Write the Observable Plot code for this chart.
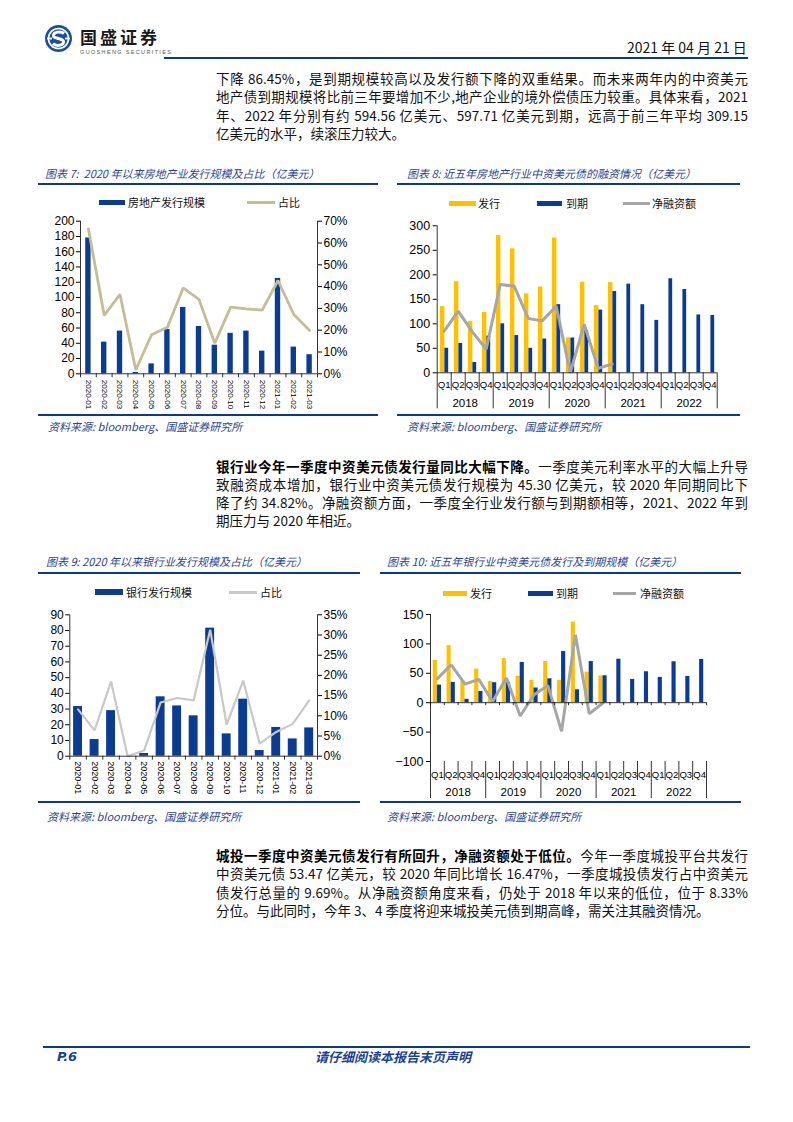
<!DOCTYPE html>
<html><head><meta charset="utf-8">
<script src="https://cdn.jsdelivr.net/npm/d3@7"></script>
<script src="https://cdn.jsdelivr.net/npm/@observablehq/plot@0.6"></script>
<style>
body{margin:0;background:#fff;}
#page{position:relative;width:793px;height:1122px;overflow:hidden;font-family:"Noto Sans CJK SC","Noto Sans",sans-serif;color:#111;background:#fff;}
.abs{position:absolute;white-space:nowrap;}
.ln{position:absolute;left:216px;width:532px;height:18.5px;line-height:18.5px;font-size:13.5px;text-align:justify;text-align-last:justify;color:#111;}
.ln.last{text-align:left;text-align-last:left;}
.ln b{font-weight:700;color:#000;}
.ttl{position:absolute;font-size:11px;line-height:14px;font-style:italic;color:#2b4590;white-space:pre;}
.src{position:absolute;font-size:11px;line-height:14px;font-style:italic;color:#2b4590;white-space:pre;}
.rule{position:absolute;height:2px;background:#0b3a8c;}
.lgt{position:absolute;font-size:11px;line-height:14px;white-space:nowrap;color:#111;}
.sw{position:absolute;}
.chart{position:absolute;}
</style></head>
<body><div id="page">
<!-- header -->
<svg class="abs" style="left:44px;top:24px" width="30" height="30" viewBox="0 0 30 30">
  <circle cx="14.5" cy="14.5" r="13.5" fill="#1b4ea0"/>
  <circle cx="14.5" cy="14.5" r="10" fill="none" stroke="#fff" stroke-width="1.6"/>
  <path d="M20 9.5 C17 7,9 7.5,9.5 12 C10 15,19 14,19.5 17.5 C20 22,12 22.5,9 19.5" fill="none" stroke="#fff" stroke-width="3"/>
  <rect x="3" y="13.6" width="5" height="1.8" fill="#fff"/>
  <rect x="21" y="13.6" width="5" height="1.8" fill="#fff"/>
</svg>
<div class="abs" style="left:80px;top:27.5px;font-size:17px;line-height:18px;font-weight:700;color:#1a1a1a;letter-spacing:3px">国盛证券</div>
<div class="abs" style="left:80px;top:49px;font-size:5.5px;line-height:6px;letter-spacing:1.35px;color:#555;font-family:'Liberation Sans',Arial,sans-serif">GUOSHENG SECURITIES</div>
<div class="abs" style="left:627px;top:38px;font-size:14px;line-height:18px;color:#111">2021 年 04 月 21 日</div>
<div class="rule" style="left:164px;top:56.5px;width:584px;height:2.5px"></div>

<!-- paragraph 1 -->
<div class="ln" style="top:68.75px">下降 86.45%，是到期规模较高以及发行额下降的双重结果。而未来两年内的中资美元</div>
<div class="ln" style="top:87.25px">地产债到期规模将比前三年要增加不少,地产企业的境外偿债压力较重。具体来看，2021</div>
<div class="ln" style="top:105.75px">年、2022 年分别有约 594.56 亿美元、597.71 亿美元到期，远高于前三年平均 309.15</div>
<div class="ln last" style="top:124.25px">亿美元的水平，续滚压力较大。</div>

<!-- chart 7 / 8 titles -->
<div class="ttl" style="left:45px;top:166px">图表 7:  2020 年以来房地产业发行规模及占比（亿美元）</div>
<div class="rule" style="left:38px;top:183.3px;width:340px"></div>
<div class="ttl" style="left:407px;top:166px">图表 8: 近五年房地产行业中资美元债的融资情况（亿美元）</div>
<div class="rule" style="left:397px;top:183.3px;width:343px"></div>

<!-- legends 7 -->
<div class="sw" style="left:99px;top:199.5px;width:26px;height:5px;background:#0b3c8f"></div>
<div class="lgt" style="left:128px;top:195px">房地产发行规模</div>
<div class="sw" style="left:247px;top:200.5px;width:28px;height:3px;background:#c4bd97"></div>
<div class="lgt" style="left:278px;top:195px">占比</div>
<!-- legends 8 -->
<div class="sw" style="left:449px;top:200.8px;width:27px;height:5px;background:#ffc000"></div>
<div class="lgt" style="left:478px;top:196px">发行</div>
<div class="sw" style="left:537px;top:200.8px;width:25px;height:5px;background:#0b3c8f"></div>
<div class="lgt" style="left:566px;top:196px">到期</div>
<div class="sw" style="left:623px;top:201.8px;width:27px;height:3px;background:#a6a6a6"></div>
<div class="lgt" style="left:652px;top:196px">净融资额</div>

<div class="chart" id="c7" style="left:30px;top:195px;width:345px"></div>
<div class="chart" id="c8" style="left:395px;top:210px;width:345px"></div>

<div class="rule" style="left:38px;top:414px;width:340px"></div>
<div class="rule" style="left:397px;top:414px;width:343px"></div>
<div class="src" style="left:48px;top:419px">资料来源: bloomberg、国盛证券研究所</div>
<div class="src" style="left:407px;top:419px">资料来源: bloomberg、国盛证券研究所</div>

<!-- paragraph 2 -->
<div class="ln" style="top:457.25px"><b>银行业今年一季度中资美元债发行量同比大幅下降。</b>一季度美元利率水平的大幅上升导</div>
<div class="ln" style="top:475.25px">致融资成本增加，银行业中资美元债发行规模为 45.30 亿美元，较 2020 年同期同比下</div>
<div class="ln" style="top:493.25px">降了约 34.82%。净融资额方面，一季度全行业发行额与到期额相等，2021、2022 年到</div>
<div class="ln last" style="top:511.25px">期压力与 2020 年相近。</div>

<!-- chart 9 / 10 titles -->
<div class="ttl" style="left:46px;top:554px">图表 9: 2020 年以来银行业发行规模及占比（亿美元）</div>
<div class="rule" style="left:38px;top:571.7px;width:322px"></div>
<div class="ttl" style="left:387px;top:554px">图表 10: 近五年银行业中资美元债发行及到期规模（亿美元）</div>
<div class="rule" style="left:380px;top:571.7px;width:361px"></div>

<!-- legends 9 -->
<div class="sw" style="left:95px;top:589px;width:28px;height:6px;background:#0b3c8f"></div>
<div class="lgt" style="left:126px;top:585px">银行发行规模</div>
<div class="sw" style="left:229px;top:590.5px;width:28px;height:3px;background:#c8c8c8"></div>
<div class="lgt" style="left:260px;top:585px">占比</div>
<!-- legends 10 -->
<div class="sw" style="left:443px;top:590.5px;width:24px;height:5px;background:#ffc000"></div>
<div class="lgt" style="left:470px;top:586px">发行</div>
<div class="sw" style="left:528px;top:590.5px;width:25px;height:5px;background:#0b3c8f"></div>
<div class="lgt" style="left:556px;top:586px">到期</div>
<div class="sw" style="left:613px;top:591.5px;width:23px;height:3px;background:#a6a6a6"></div>
<div class="lgt" style="left:640px;top:586px">净融资额</div>

<div class="chart" id="c9" style="left:20px;top:600px;width:340px"></div>
<div class="chart" id="c10" style="left:380px;top:600px;width:360px"></div>

<div class="rule" style="left:38px;top:801.3px;width:322px"></div>
<div class="rule" style="left:380px;top:801.3px;width:361px"></div>
<div class="src" style="left:47px;top:809px">资料来源: bloomberg、国盛证券研究所</div>
<div class="src" style="left:387px;top:809px">资料来源: bloomberg、国盛证券研究所</div>

<!-- paragraph 3 -->
<div class="ln" style="top:845.75px"><b>城投一季度中资美元债发行有所回升，净融资额处于低位。</b>今年一季度城投平台共发行</div>
<div class="ln" style="top:864.25px">中资美元债 53.47 亿美元，较 2020 年同比增长 16.47%，一季度城投债发行占中资美元</div>
<div class="ln" style="top:882.75px">债发行总量的 9.69%。从净融资额角度来看，仍处于 2018 年以来的低位，位于 8.33%</div>
<div class="ln last" style="top:901.25px">分位。与此同时，今年 3、4 季度将迎来城投美元债到期高峰，需关注其融资情况。</div>

<!-- footer -->
<div class="rule" style="left:43px;top:1045.7px;width:707px"></div>
<div class="abs" style="left:57px;top:1049px;font-size:13px;line-height:16px;font-weight:700;font-style:italic;color:#1a3f94;font-family:'DejaVu Sans',sans-serif">P.6</div>
<div class="abs" style="left:315px;top:1049px;font-size:13px;line-height:16px;font-weight:700;font-style:italic;color:#1a3f94">请仔细阅读本报告末页声明</div>
</div>

<script>
// ---------- data ----------
const months = ["2020-01","2020-02","2020-03","2020-04","2020-05","2020-06","2020-07","2020-08","2020-09","2020-10","2020-11","2020-12","2021-01","2021-02","2021-03"];
const reIssue = [178, 41.5, 56, 1.7, 13, 58, 87, 62, 37.5, 53, 56, 29.7, 125, 35, 25];
const reShare = [66.5, 26.8, 36.4, 1.8, 17.9, 21.4, 39.4, 34.1, 14, 30.6, 29.8, 29.2, 42.8, 27.2, 19.9];
const bankIssue = [31.6, 10.6, 29, 0, 1.7, 37.8, 32, 25.7, 81.5, 14.2, 36.3, 3.6, 18.3, 11, 18];
const bankShare = [11.6, 6.4, 18.5, 0, 1.4, 13.3, 14.4, 13.8, 31.3, 7.8, 18.7, 3.1, 6, 8, 13.8];

const years = ["2018","2019","2020","2021","2022"];
const qNames = ["Q1","Q2","Q3","Q4"];
const reIss = [135, 186, 105, 123, 280, 253, 161, 175, 275, 71, 185, 137, 184];
const reMat = [50, 60, 21, 75, 100, 76, 50, 69, 139, 71, 86, 128, 166, 181, 139, 107, 192, 170, 118, 117];
const reNet = [85, 126, 84, 48, 180, 177, 111, 106, 136, 0, 99, 9, 18];
const bkIss = [72, 97, 37, 57, 36, 75, 45, 38, 70, 38, 137, 52, 45.3];
const bkMat = [30, 34.5, 5.7, 19, 34, 34, 68.5, 25, 40.7, 87, 22, 70, 45.8, 74, 39.6, 52.6, 43, 69.6, 44.7, 73.6];
const bkNet = [41, 64.5, 31.7, 39.6, 2, 41.9, -22.6, 13.6, 29.4, -48.7, 115.4, -18.7, -0.5];

// ---------- styles ----------
const BLUE = "#0b3c8f", GOLD = "#ffc000", KHAKI = "#c4bd97", NETG = "#a6a6a6", LGRAY = "#c8c8c8";
const baseStyle = {fontFamily: "'Liberation Sans', Arial, sans-serif", fontSize: "12px", color: "#000", background: "transparent", overflow: "visible"};

function dualChart({cats, vals, pcts, yMax, yStep, pMax, pStep, half, lineColor, lineWidth, width, height, mL, mR, mT, mB, labelSize, labelPad}) {
  const n = cats.length;
  const k = yMax / pMax;
  const data = cats.map((c, i) => ({i, c, v: vals[i], p: pcts[i]}));
  return Plot.plot({
    width, height, marginLeft: mL, marginRight: mR, marginTop: mT, marginBottom: mB,
    x: {type: "linear", domain: [-0.5, n - 0.5], axis: null},
    y: {domain: [0, yMax], axis: null},
    style: baseStyle,
    marks: [
      Plot.rectY(data.filter(d => d.v > 0), {x1: d => d.i - half, x2: d => d.i + half, y: "v", fill: BLUE}),
      Plot.lineY(data, {x: "i", y: d => d.p * k, stroke: lineColor, strokeWidth: lineWidth, strokeLinejoin: "miter"}),
      Plot.ruleX([-0.5, n - 0.5], {stroke: "#000", strokeWidth: 0.8}),
      Plot.ruleY([0], {stroke: "#000", strokeWidth: 0.8}),
      Plot.ruleX(d3.range(n + 1), {x: i => i - 0.5, y1: 0, y2: 0, insetBottom: -4, stroke: "#000", strokeWidth: 0.8}),
      Plot.axisY(d3.range(0, yMax + 0.001, yStep), {anchor: "left", tickSize: 4, tickPadding: 2, label: null, fontSize: 12}),
      Plot.axisY(d3.range(0, pMax + 0.001, pStep).map(p => p * k), {anchor: "right", tickSize: 4, tickPadding: 2, label: null, fontSize: 12, tickFormat: d => Math.round(d / k) + "%"}),
      Plot.axisX(d3.range(n), {anchor: "bottom", tickSize: 0, tickPadding: labelPad, tickRotate: 90, textAnchor: "start", fontSize: labelSize, label: null, tickFormat: i => cats[i]})
    ]
  });
}

function quarterChart({iss, mat, net, yMin, yMax, yStep, yellowX, blueX, width, height, mL, mR, mT, mB, qDy, yDy, qSep, ySep, zeroTicks}) {
  const quarters = years.flatMap(y => qNames.map(q => ({y, q})));
  const n = quarters.length;
  const data = quarters.map((d, i) => ({i, q: d.q, iss: iss[i], mat: mat[i], net: net[i]}));
  const bounds = d3.range(n + 1);
  const marks = [
    Plot.rectY(data.filter(d => d.iss != null), {x1: d => d.i + yellowX[0], x2: d => d.i + yellowX[1], y: "iss", fill: GOLD}),
    Plot.rectY(data.filter(d => d.mat != null), {x1: d => d.i + blueX[0], x2: d => d.i + blueX[1], y: "mat", fill: BLUE}),
    Plot.lineY(data.filter(d => d.net != null), {x: "i", y: "net", stroke: NETG, strokeWidth: 3, strokeLinejoin: "miter"}),
    Plot.ruleX([-0.5], {stroke: "#000", strokeWidth: 0.8}),
    Plot.ruleY([0], {stroke: "#000", strokeWidth: 0.8}),
    Plot.axisY(d3.range(yMin, yMax + 0.001, yStep), {anchor: "left", tickSize: 4, tickPadding: 3, label: null, fontSize: 12.5}),
    Plot.ruleX(bounds.filter(b => b % 4 !== 0), {x: b => b - 0.5, y1: yMin, y2: yMin, insetBottom: -qSep, stroke: "#000", strokeWidth: 0.8}),
    Plot.ruleX(bounds.filter(b => b % 4 === 0), {x: b => b - 0.5, y1: yMin, y2: yMin, insetBottom: -ySep, stroke: "#000", strokeWidth: 0.8}),
    Plot.text(data, {x: "i", y: yMin, dy: qDy, text: "q", fontSize: 9.6, fill: "#000"}),
    Plot.text(years, {x: (d, k) => 4 * k + 1.5, y: yMin, dy: yDy, text: d => d, fontSize: 11.5, fill: "#000"})
  ];
  if (zeroTicks) marks.push(Plot.ruleX(bounds, {x: b => b - 0.5, y1: 0, y2: 0, insetBottom: -3, stroke: "#000", strokeWidth: 0.8}));
  return Plot.plot({
    width, height, marginLeft: mL, marginRight: mR, marginTop: mT, marginBottom: mB,
    x: {type: "linear", domain: [-0.5, n - 0.5], axis: null},
    y: {domain: [yMin, yMax], axis: null},
    style: baseStyle,
    marks
  });
}

document.getElementById("c7").append(dualChart({
  cats: months, vals: reIssue, pcts: reShare, yMax: 200, yStep: 20, pMax: 70, pStep: 10,
  half: 0.17, lineColor: KHAKI, lineWidth: 2.8,
  width: 345, height: 220, mL: 50, mR: 58, mT: 25.7, mB: 41.7, labelSize: 8, labelPad: 6
}));

document.getElementById("c9").append(dualChart({
  cats: months, vals: bankIssue, pcts: bankShare, yMax: 90, yStep: 10, pMax: 35, pStep: 5,
  half: 0.27, lineColor: LGRAY, lineWidth: 2.2,
  width: 340, height: 205, mL: 49.3, mR: 43, mT: 14.3, mB: 49.3, labelSize: 9, labelPad: 5
}));

document.getElementById("c8").append(quarterChart({
  iss: reIss, mat: reMat, net: reNet, yMin: 0, yMax: 300, yStep: 50,
  yellowX: [-0.27, 0.05], blueX: [0.05, 0.32],
  width: 345, height: 205, mL: 41.7, mR: 23.3, mT: 15.3, mB: 42.7,
  qDy: 12, yDy: 31, qSep: 18, ySep: 36, zeroTicks: false
}));

document.getElementById("c10").append(quarterChart({
  iss: bkIss, mat: bkMat, net: bkNet, yMin: -100, yMax: 150, yStep: 50,
  yellowX: [-0.3, 0], blueX: [0, 0.3],
  width: 360, height: 205, mL: 50, mR: 34, mT: 14, mB: 44,
  qDy: 13, yDy: 31, qSep: 19, ySep: 37, zeroTicks: true
}));
</script>
</body></html>
